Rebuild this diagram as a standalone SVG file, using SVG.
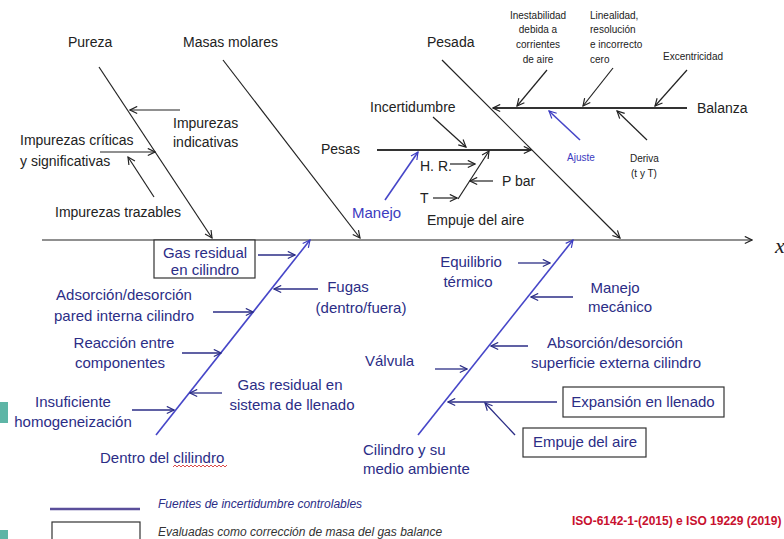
<svg xmlns="http://www.w3.org/2000/svg" width="784" height="539" viewBox="0 0 784 539">
<defs>
<style>
.t{font-family:"Liberation Sans",Arial,sans-serif;font-size:14px;fill:#222}
.s{font-family:"Liberation Sans",Arial,sans-serif;font-size:10px;fill:#222}
.b{font-family:"Liberation Sans",Arial,sans-serif;font-size:15px;fill:#2b2d86}
.bs{font-family:"Liberation Sans",Arial,sans-serif;font-size:10px;fill:#3b3bc0}
.m{text-anchor:middle}
.k{stroke:#222;stroke-width:1.2;fill:none}
.kk{stroke:#333;stroke-width:2;fill:none}
.bl{stroke:#4646c8;stroke-width:1.6;fill:none}
.nv{stroke:#2b2d86;stroke-width:1.3;fill:none}
.box{fill:#fff;stroke:#333;stroke-width:1.2}
.lg{font-family:"Liberation Sans",Arial,sans-serif;font-size:12px;font-style:italic}
</style>
<marker id="ak" viewBox="0 0 10 10" refX="9" refY="5" markerWidth="9" markerHeight="9" markerUnits="userSpaceOnUse" orient="auto"><path d="M1,1 L9,5 L1,9" fill="none" stroke="#222" stroke-width="1.3"/></marker>
<marker id="ab" viewBox="0 0 10 10" refX="9" refY="5" markerWidth="9" markerHeight="9" markerUnits="userSpaceOnUse" orient="auto"><path d="M1,1 L9,5 L1,9" fill="none" stroke="#3b3bc0" stroke-width="1.3"/></marker>
<marker id="an" viewBox="0 0 10 10" refX="9" refY="5" markerWidth="9" markerHeight="9" markerUnits="userSpaceOnUse" orient="auto"><path d="M1,1 L9,5 L1,9" fill="none" stroke="#2b2d86" stroke-width="1.3"/></marker>
</defs>
<rect width="784" height="539" fill="#fff"/>
<rect x="0" y="402" width="8" height="21" fill="#5eb5a6"/>
<rect x="0" y="530" width="8" height="9" fill="#5eb5a6"/>

<g id="connectors">
<line class="k" x1="42" y1="240" x2="752" y2="240" stroke-width="1.5" marker-end="url(#ak)"/>
<line class="k" x1="99" y1="67" x2="212" y2="238" marker-end="url(#ak)"/>
<line class="k" x1="223" y1="60" x2="360" y2="238" marker-end="url(#ak)"/>
<line class="k" x1="442" y1="60" x2="620" y2="238" marker-end="url(#ak)"/>
<line class="kk" x1="687" y1="108" x2="493" y2="108" marker-end="url(#ak)"/>
<line class="kk" x1="377" y1="150" x2="531" y2="150" marker-end="url(#ak)"/>
<line class="k" x1="433" y1="117" x2="466" y2="147" marker-end="url(#ak)"/>
<line class="bl" x1="385" y1="200" x2="418" y2="152" stroke-width="1.3" marker-end="url(#ab)"/>
<line class="k" x1="450" y1="164" x2="475" y2="164" marker-end="url(#ak)"/>
<line class="k" x1="458" y1="199" x2="489" y2="151" marker-end="url(#ak)"/>
<line class="k" x1="493" y1="181" x2="470" y2="181" marker-end="url(#ak)"/>
<line class="k" x1="433" y1="198" x2="457" y2="198" marker-end="url(#ak)"/>
<line class="k" x1="547" y1="70" x2="517" y2="106" marker-end="url(#ak)"/>
<line class="k" x1="613" y1="68" x2="583" y2="106" marker-end="url(#ak)"/>
<line class="k" x1="687" y1="70" x2="655" y2="106" marker-end="url(#ak)"/>
<line class="bl" x1="580" y1="140" x2="549" y2="111" stroke-width="1.3" marker-end="url(#ab)"/>
<line class="k" x1="647" y1="140" x2="617" y2="111" marker-end="url(#ak)"/>
<line class="k" x1="180" y1="110" x2="130" y2="110" marker-end="url(#ak)"/>
<line class="k" x1="100" y1="152" x2="155" y2="152" marker-end="url(#ak)"/>
<line class="k" x1="154" y1="197" x2="128" y2="157" marker-end="url(#ak)"/>

<line class="bl" x1="156" y1="435" x2="310" y2="240" marker-end="url(#ab)"/>
<line class="nv" x1="258" y1="255" x2="295" y2="255" marker-end="url(#an)"/>
<line class="nv" x1="318" y1="289" x2="274" y2="289" marker-end="url(#an)"/>
<line class="nv" x1="213" y1="312" x2="253" y2="312" marker-end="url(#an)"/>
<line class="nv" x1="182" y1="353" x2="221" y2="353" marker-end="url(#an)"/>
<line class="nv" x1="222" y1="393" x2="190" y2="393" marker-end="url(#an)"/>
<line class="nv" x1="132" y1="410" x2="174" y2="410" marker-end="url(#an)"/>
<line class="bl" x1="418" y1="435" x2="573" y2="240" marker-end="url(#ab)"/>
<line class="nv" x1="518" y1="263" x2="550" y2="263" marker-end="url(#an)"/>
<line class="nv" x1="573" y1="297" x2="531" y2="297" marker-end="url(#an)"/>
<line class="nv" x1="528" y1="346" x2="491" y2="346" marker-end="url(#an)"/>
<line class="nv" x1="435" y1="369" x2="467" y2="369" marker-end="url(#an)"/>
<line class="nv" x1="557" y1="402" x2="448" y2="402" stroke="#2f4a6a" marker-end="url(#an)"/>
<line class="nv" x1="515" y1="435" x2="485" y2="403" stroke="#2f4a6a" marker-end="url(#an)"/>
</g>

<g id="pureza"><text class="t" x="68" y="47">Pureza</text></g>
<g id="masas-molares"><text class="t" x="183" y="47">Masas molares</text></g>
<g id="pesada"><text class="t" x="427" y="47">Pesada</text></g>
<g id="impurezas-indicativas"><text class="t" x="173" y="128">Impurezas</text><text class="t" x="173" y="147">indicativas</text></g>
<g id="impurezas-criticas"><text class="t" x="20" y="145">Impurezas críticas</text><text class="t" x="20" y="166">y significativas</text></g>
<g id="impurezas-trazables"><text class="t" x="55" y="217">Impurezas trazables</text></g>
<g id="pesas"><text class="t" x="321" y="154">Pesas</text></g>
<g id="incertidumbre"><text class="t" x="370" y="112" font-size="15">Incertidumbre</text></g>
<g id="manejo"><text class="b" x="352" y="218" style="fill:#3b3bc0">Manejo</text></g>
<g id="hr"><text class="t" x="420" y="171" font-size="13">H. R.</text></g>
<g id="pbar"><text class="t" x="502" y="186" font-size="13.5">P bar</text></g>
<g id="t"><text class="t" x="420" y="203" font-size="13">T</text></g>
<g id="empuje-aire-top"><text class="t" x="427" y="225">Empuje del aire</text></g>
<g id="balanza"><text class="t" x="697" y="113">Balanza</text></g>
<g id="inestabilidad"><text class="s m" x="538" y="19">Inestabilidad</text><text class="s m" x="538" y="33">debida a</text><text class="s m" x="538" y="48">corrientes</text><text class="s m" x="538" y="63">de aire</text></g>
<g id="linealidad"><text class="s" x="590" y="19">Linealidad,</text><text class="s" x="590" y="33">resolución</text><text class="s" x="590" y="48">e incorrecto</text><text class="s" x="590" y="63">cero</text></g>
<g id="excentricidad"><text class="s" x="663" y="60">Excentricidad</text></g>
<g id="ajuste"><text class="bs" x="567" y="161">Ajuste</text></g>
<g id="deriva"><text class="s" x="630" y="162">Deriva</text><text class="s" x="631" y="177">(t y T)</text></g>
<g id="x-label"><text x="775" y="253" font-family="Liberation Serif,serif" font-style="italic" font-size="22" fill="#222">x</text></g>

<g id="gas-residual-cilindro"><rect class="box" x="154" y="240" width="101" height="38"/><text class="b m" x="205" y="258" font-size="14">Gas residual</text><text class="b m" x="205" y="275" font-size="14">en cilindro</text></g>
<g id="fugas"><text class="b m" x="348" y="292">Fugas</text><text class="b m" x="361" y="313">(dentro/fuera)</text></g>
<g id="adsorcion"><text class="b m" x="124" y="300">Adsorción/desorción</text><text class="b m" x="124" y="321">pared interna cilindro</text></g>
<g id="reaccion"><text class="b m" x="124" y="348">Reacción entre</text><text class="b m" x="120" y="368">componentes</text></g>
<g id="gas-residual-sistema"><text class="b m" x="290" y="390">Gas residual en</text><text class="b m" x="292" y="410">sistema de llenado</text></g>
<g id="insuficiente"><text class="b m" x="73" y="407">Insuficiente</text><text class="b m" x="73" y="427">homogeneización</text></g>
<g id="dentro-cilindro"><text class="b" x="100" y="463">Dentro del clilindro</text><path d="M173,467 l2,-2 l2,2 l2,-2 l2,2 l2,-2 l2,2 l2,-2 l2,2 l2,-2 l2,2 l2,-2 l2,2 l2,-2 l2,2 l2,-2 l2,2 l2,-2 l2,2 l2,-2 l2,2 l2,-2 l2,2 l2,-2 l2,2 l2,-2 l2,2 l2,-2" fill="none" stroke="#d02020" stroke-width="0.8"/></g>
<g id="cilindro-medio"><text class="b" x="363" y="455">Cilindro y su</text><text class="b" x="363" y="474">medio ambiente</text></g>
<g id="equilibrio"><text class="b m" x="471" y="267">Equilibrio</text><text class="b m" x="468" y="287">térmico</text></g>
<g id="manejo-mecanico"><text class="b m" x="615" y="293">Manejo</text><text class="b m" x="620" y="312">mecánico</text></g>
<g id="absorcion"><text class="b m" x="615" y="348">Absorción/desorción</text><text class="b m" x="616" y="368">superficie externa cilindro</text></g>
<g id="valvula"><text class="b" x="365" y="366">Válvula</text></g>
<g id="expansion"><rect class="box" x="563" y="387" width="161" height="30"/><text class="b m" x="643" y="407" font-size="14">Expansión en llenado</text></g>
<g id="empuje-aire-box"><rect class="box" x="523" y="428" width="123" height="29"/><text class="b m" x="585" y="447" font-size="14">Empuje del aire</text></g>

<g id="legend">
<line x1="50" y1="509" x2="140" y2="509" stroke="#5a4e9a" stroke-width="2.5"/>
<text class="lg" x="158" y="508" fill="#2b2d86">Fuentes de incertidumbre controlables</text>
<rect x="52" y="522" width="88" height="22" fill="#fff" stroke="#333" stroke-width="1.2"/>
<text class="lg" x="158" y="536" fill="#333">Evaluadas como corrección de masa del gas balance</text>
</g>
<g id="reference"><text x="572" y="525" font-family="Liberation Sans,Arial,sans-serif" font-size="12" font-weight="bold" fill="#c8102e">ISO-6142-1-(2015) e ISO 19229 (2019)</text></g>
</svg>
